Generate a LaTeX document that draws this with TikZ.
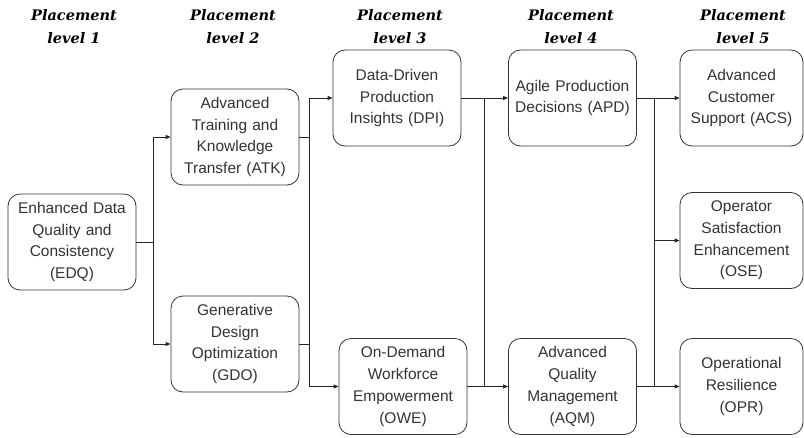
\documentclass[tikz,border=0pt]{standalone}
\usepackage{fontspec}
\setmainfont{Liberation Sans}
\newfontfamily\titlefont{DejaVu Serif}
\usepackage{tikz}
\usetikzlibrary{arrows, arrows.meta, positioning, calc}

\begin{document}
\begin{tikzpicture}[x=1pt, y=-1pt,
    block/.style={draw=black!80, line width=0.8pt, rounded corners=12pt, minimum width=128pt, minimum height=96pt,
                  inner sep=0pt, text width=122pt, align=center, text=black!80,
                  font=\fontsize{15.5}{21.7}\selectfont},
    level/.style={align=center, inner sep=0pt, font=\titlefont\bfseries\itshape\fontsize{14.5}{23}\selectfont},
    link/.style={draw=black!85, line width=0.8pt},
    >={Triangle[length=5pt, width=4pt]}]

    \useasboundingbox (0,0) rectangle (804,437);

    % Column titles
    \node (t1) [level] at (74,27) {Placement\\level 1};
    \node (t2) [level] at (233,27) {Placement\\level 2};
    \node (t3) [level] at (400,27) {Placement\\level 3};
    \node (t4) [level] at (571,27) {Placement\\level 4};
    \node (t5) [level] at (743,27) {Placement\\level 5};

    % Level 1
    \node (edq) [block] at (72,242) {Enhanced Data\\Quality and\\Consistency\\(EDQ)};

    % Level 2
    \node (atk) [block] at (235,137) {Advanced\\Training and\\Knowledge\\Transfer (ATK)};
    \node (gdo) [block] at (235,344) {Generative\\Design\\Optimization\\(GDO)};

    % Level 3
    \node (dpi) [block] at (397,98) {Data-Driven\\Production\\Insights (DPI)};
    \node (owe) [block] at (403,386.5) {On-Demand\\Workforce\\Empowerment\\(OWE)};

    % Level 4
    \node (apd) [block] at (572.5,98) {Agile Production\\Decisions (APD)};
    \node (aqm) [block] at (572.5,386.5) {Advanced\\Quality\\Management\\(AQM)};

    % Level 5
    \node (acs) [block, minimum width=123pt, text width=120pt] at (741.5,98) {Advanced\\Customer\\Support (ACS)};
    \node (ose) [block, minimum width=123pt, text width=120pt] at (741.5,240.5) {Operator\\Satisfaction\\Enhancement\\(OSE)};
    \node (opr) [block, minimum width=123pt, text width=120pt] at (741.5,386.5) {Operational\\Resilience\\(OPR)};

    % Junction points
    \coordinate (j1) at (153,242);
    \coordinate (j2) at (309,242);
    \coordinate (j3) at (484,242);
    \coordinate (j4) at (654,242);

    % Level 1 -> level 2
    \draw[link, ->] (edq.east) -- (j1) |- (atk.west);
    \draw[link, ->] (j1) |- (gdo.west);

    % Level 2 -> level 3
    \draw[link] (atk.east) -- (atk.east -| j2);
    \draw[link] (gdo.east) -- (gdo.east -| j2);
    \draw[link, ->] (owe.west -| j2) -- (dpi.west -| j2) -- (dpi.west);
    \draw[link, ->] (owe.west -| j2) -- (owe.west);

    % Level 3 -> level 4
    \draw[link, ->] (dpi.east) -- (apd.west);
    \draw[link, ->] (owe.east) -- (aqm.west);
    \draw[link] (dpi.east -| j3) -- (owe.east -| j3);

    % Level 4 -> level 5
    \draw[link, ->] (apd.east) -- (acs.west);
    \draw[link, ->] (aqm.east) -- (opr.west);
    \draw[link] (apd.east -| j4) -- (aqm.east -| j4);
    \draw[link, ->] (ose.west -| j4) -- (ose.west);
\end{tikzpicture}
\end{document}
